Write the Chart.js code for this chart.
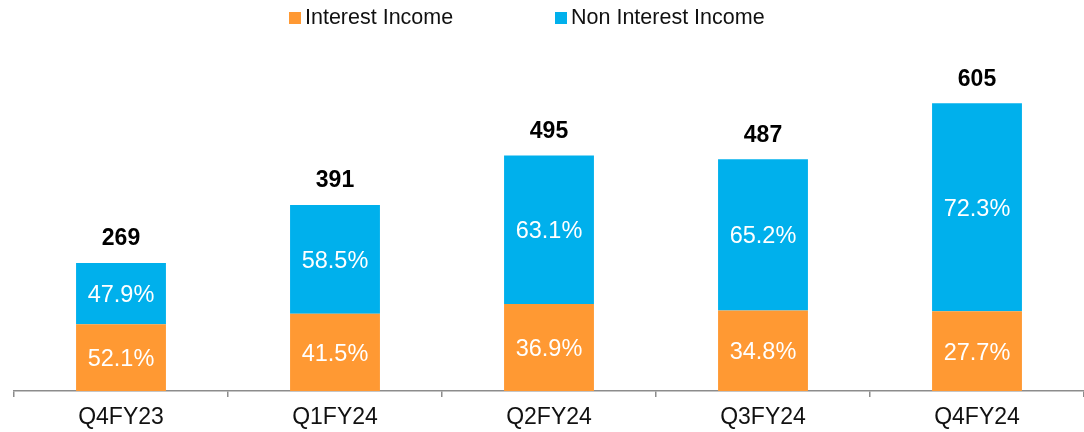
<!DOCTYPE html>
<html>
<head>
<meta charset="utf-8">
<script src="https://cdn.jsdelivr.net/npm/chart.js@4"></script>
<style>
  html, body { margin: 0; padding: 0; background: #fff; }
  #wrap { width: 1084px; height: 432px; position: relative; }
</style>
</head>
<body>
<div id="wrap"><canvas id="incomeChart"></canvas></div>
<script>
const QUARTERS = ['Q4FY23', 'Q1FY24', 'Q2FY24', 'Q3FY24', 'Q4FY24'];
const TOTALS = [269, 391, 495, 487, 605];
const INTEREST_PCT = [52.1, 41.5, 36.9, 34.8, 27.7];
const NON_INTEREST_PCT = [47.9, 58.5, 63.1, 65.2, 72.3];
const SERIES_NAMES = ['Interest Income', 'Non Interest Income'];

const ORANGE = '#FF9933';
const BLUE = '#00B0EC';
const FONT = "'Liberation Sans', Arial, sans-serif";

// segment heights = share of the quarter total
const interestVals = TOTALS.map((t, i) => t * INTEREST_PCT[i] / 100);
const nonInterestVals = TOTALS.map((t, i) => t * NON_INTEREST_PCT[i] / 100);

// legend drawn by hand so the spacing matches the slide
const topLegend = {
  id: 'topLegend',
  afterDraw(chart) {
    const ctx = chart.ctx;
    const spots = [289, 555];
    ctx.save();
    ctx.font = '21.5px ' + FONT;
    ctx.textBaseline = 'middle';
    ctx.textAlign = 'left';
    chart.data.datasets.forEach((ds, i) => {
      ctx.fillStyle = ds.backgroundColor;
      ctx.fillRect(spots[i], 12, 12, 12);
      ctx.fillStyle = '#111111';
      ctx.fillText(ds.label, spots[i] + 16, 18.5);
    });
    ctx.restore();
  }
};

const barLabels = {
  id: 'barLabels',
  afterDatasetsDraw(chart) {
    const ctx = chart.ctx;
    ctx.save();
    ctx.textAlign = 'center';
    ctx.textBaseline = 'middle';

    // percentages inside the segments
    ctx.font = '23.5px ' + FONT;
    ctx.fillStyle = '#ffffff';
    [INTEREST_PCT, NON_INTEREST_PCT].forEach((pcts, di) => {
      chart.getDatasetMeta(di).data.forEach((bar, i) => {
        const mid = (bar.y + bar.base) / 2;
        ctx.fillText(pcts[i].toFixed(1) + '%', bar.x, mid + 2);
      });
    });

    // totals above the stacks
    ctx.font = 'bold 23px ' + FONT;
    ctx.fillStyle = '#000000';
    chart.getDatasetMeta(1).data.forEach((bar, i) => {
      ctx.fillText(TOTALS[i], bar.x, bar.y - 24);
    });
    ctx.restore();
  }
};

function initChart() {
  const ctx = document.getElementById('incomeChart').getContext('2d');

  new Chart(ctx, {
    type: 'bar',
    data: {
      labels: QUARTERS,
      datasets: [
        {
          label: SERIES_NAMES[0],
          data: interestVals,
          backgroundColor: ORANGE,
          barPercentage: 0.84,
          categoryPercentage: 0.5
        },
        {
          label: SERIES_NAMES[1],
          data: nonInterestVals,
          backgroundColor: BLUE,
          barPercentage: 0.84,
          categoryPercentage: 0.5
        }
      ]
    },
    options: {
      responsive: true,
      maintainAspectRatio: false,
      animation: false,
      layout: { padding: { left: 14, right: 0, top: 58, bottom: 0 } },
      scales: {
        x: {
          stacked: true,
          afterFit(scale) { scale.height = 41; },
          border: { display: true, color: '#8c8c8c', width: 1.5 },
          grid: {
            offset: true,
            drawOnChartArea: false,
            drawTicks: true,
            tickLength: 6,
            color: '#8c8c8c',
            lineWidth: 1.5
          },
          ticks: {
            color: '#111111',
            padding: 7,
            font: { family: FONT, size: 23 }
          }
        },
        y: {
          stacked: true,
          display: false,
          min: 0,
          max: 700
        }
      },
      plugins: {
        legend: { display: false },
        tooltip: { enabled: false }
      }
    },
    plugins: [barLabels, topLegend]
  });
}

document.addEventListener('DOMContentLoaded', initChart);
</script>
</body>
</html>
